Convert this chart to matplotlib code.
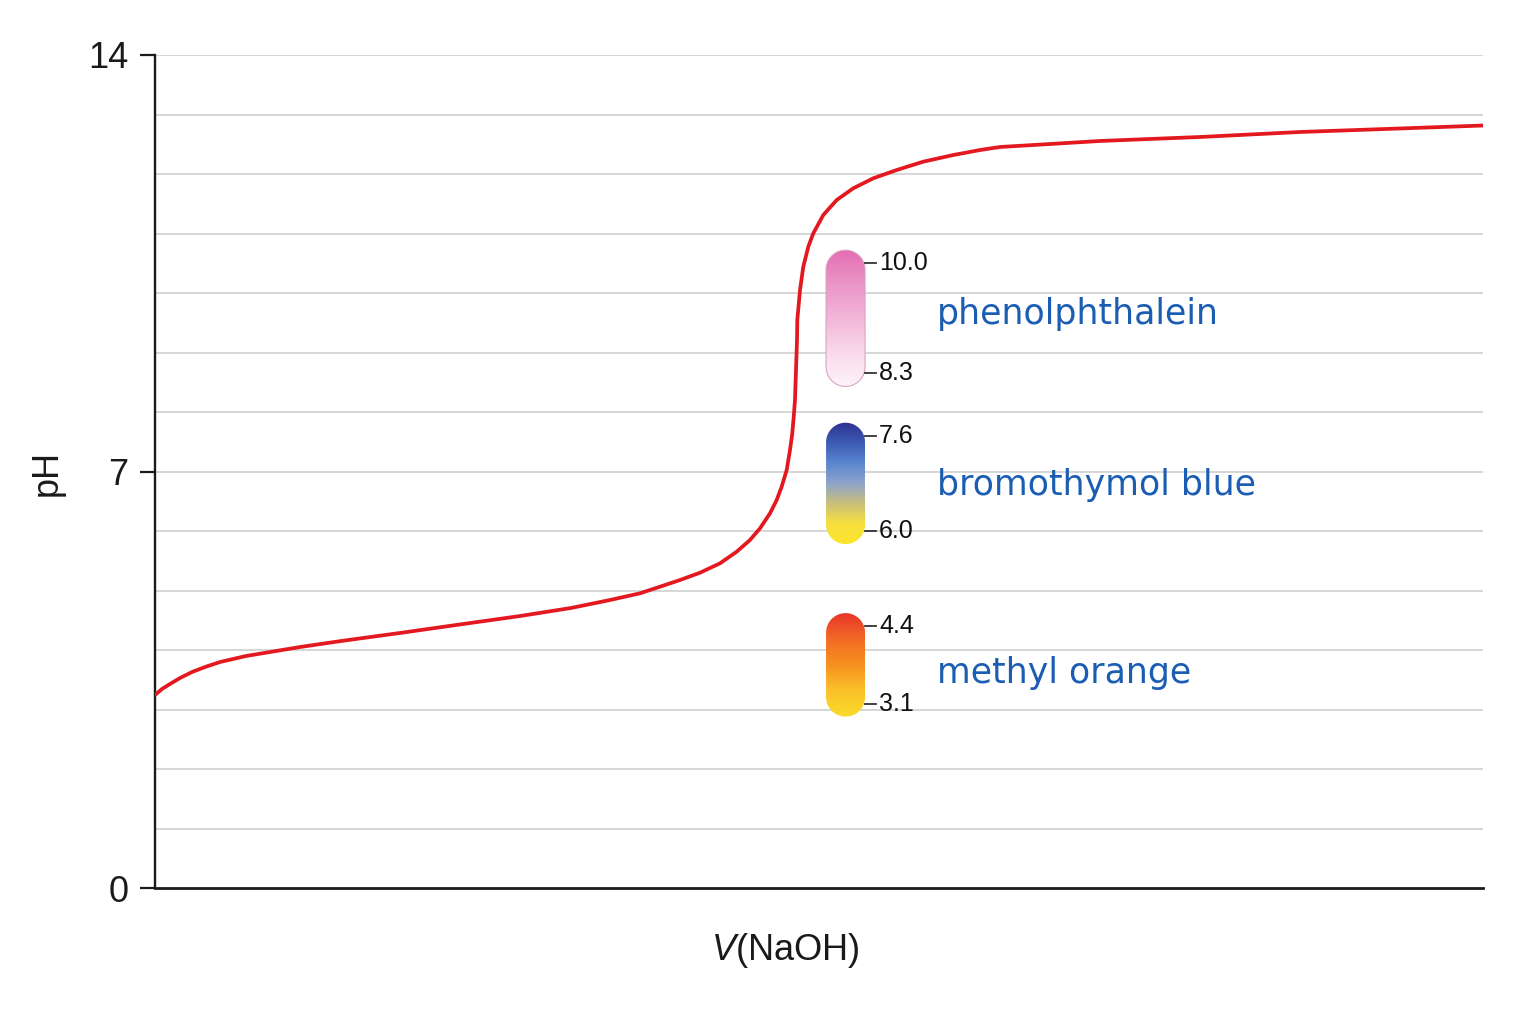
import numpy as np
import matplotlib.pyplot as plt
from matplotlib.path import Path
from matplotlib.patches import PathPatch
from matplotlib.colors import LinearSegmentedColormap

plt.rcParams['font.family'] = ['Liberation Sans', 'DejaVu Sans']
plt.rcParams['mathtext.fontset'] = 'custom'
plt.rcParams['mathtext.it'] = 'Liberation Sans:italic'
plt.rcParams['mathtext.rm'] = 'Liberation Sans'

# titration curve (V in mL, arbitrary scale)
vol = [0.000, 0.264, 0.565, 0.941, 1.393, 1.883, 2.447, 3.426, 4.330, 5.459,
       7.003, 9.224, 11.333, 13.742, 15.663, 17.131, 18.261, 19.014, 19.767,
       20.520, 21.273, 21.901, 22.402, 22.779, 23.155, 23.407, 23.595, 23.784,
       23.908, 23.995, 24.059, 24.096, 24.134, 24.172, 24.183, 24.285, 24.409,
       24.597, 24.785, 25.162, 25.666, 26.291, 27.044, 27.925, 28.927, 30.057,
       31.062, 31.815, 33.697, 35.580, 39.345, 43.110, 46.875, 50.000]
ph = [3.244, 3.345, 3.429, 3.529, 3.630, 3.714, 3.798, 3.899, 3.966, 4.050,
      4.151, 4.286, 4.420, 4.571, 4.706, 4.840, 4.953, 5.064, 5.176,
      5.299, 5.457, 5.652, 5.849, 6.045, 6.297, 6.521, 6.745, 7.025,
      7.361, 7.642, 7.978, 8.202, 8.706, 9.210, 9.546, 10.050, 10.442,
      10.778, 11.003, 11.311, 11.563, 11.760, 11.928, 12.067, 12.207, 12.319,
      12.403, 12.454, 12.504, 12.555, 12.622, 12.706, 12.765, 12.815]

# indicators
ind_names = ['methyl orange', 'bromothymol blue', 'phenolphthalein']
ind_low = [3.1, 6.0, 8.65]
ind_high = [4.4, 7.6, 10.5]
ind_low_lbl = ['3.1', '6.0', '8.3']
ind_high_lbl = ['4.4', '7.6', '10.0']
ind_name_y = [3.62, 6.77, 9.65]
ind_colors = [
    ['#fbdb2a', '#fbc22a', '#f7911f', '#f26a25', '#e8352b'],
    ['#fde52c', '#f6e03e', '#c9bf7a', '#8fa3cc', '#5a86d0', '#3c5bb4', '#2e3290'],
    ['#fdf3f8', '#f9d9ea', '#f2b5d8', '#eb94c6', '#e46cb2'],
]
ind_edges = ['none', 'none', '#dba3c4']

W, H, DPI = 1536, 1024, 100
fig = plt.figure(figsize=(W / DPI, H / DPI), dpi=DPI)
ax = fig.add_axes([155 / W, 1 - 888 / H, (1483 - 155) / W, (888 - 55) / H])

x0, x1 = 0, 50
y0, y1 = 0, 14
ax.set_xlim(x0, x1)
ax.set_ylim(y0, y1)

# horizontal gridlines every pH unit
for g in range(1, 15):
    ax.axhline(g, color='#d6d6d6', lw=1.4, zorder=1)

ax.plot(vol, ph, color='#e3191f', lw=2.7, zorder=4, solid_capstyle='round',
        solid_joinstyle='round')

# pixel -> data helpers for the little capsule bars
px_x = (x1 - x0) / (1483 - 155)
px_y = (y1 - y0) / (888 - 55)
bar_xc = 26.0
bar_hw = 19.5 * px_x
rad_y = 19.5 * px_y
pad = 0.22

for i in range(len(ind_names)):
    lo, hi = ind_low[i], ind_high[i]
    yb, yt = lo - pad, hi + pad
    t = np.linspace(0, np.pi, 30)
    top = np.column_stack([bar_xc - bar_hw * np.cos(t), yt - rad_y + rad_y * np.sin(t)])
    bot = np.column_stack([bar_xc + bar_hw * np.cos(t), yb + rad_y - rad_y * np.sin(t)])
    verts = np.vstack([top, bot, top[:1]])
    path = Path(verts)
    cmap = LinearSegmentedColormap.from_list('ind%d' % i, ind_colors[i])
    grad = np.linspace(0, 1, 256).reshape(-1, 1)
    im = ax.imshow(grad, cmap=cmap, origin='lower', aspect='auto',
                   extent=[bar_xc - bar_hw, bar_xc + bar_hw, yb, yt], zorder=5,
                   interpolation='bicubic')
    patch = PathPatch(path, facecolor='none', edgecolor=ind_edges[i], lw=0.8, zorder=6)
    ax.add_patch(patch)
    im.set_clip_path(patch)

    tx0 = bar_xc + bar_hw
    tx1 = tx0 + 11 * px_x
    for yv, lbl in [(lo, ind_low_lbl[i]), (hi, ind_high_lbl[i])]:
        ax.plot([tx0, tx1], [yv, yv], color='#333333', lw=1.3, zorder=6)
        ax.text(tx1 + 3 * px_x, yv, lbl, fontsize=18, va='center', ha='left',
                color='#111111', zorder=7)
    ax.text(29.44, ind_name_y[i], ind_names[i], fontsize=25, color='#1b5db3',
            family=['DejaVu Sans'], va='center', ha='left', zorder=7)

ax.set_xlim(x0, x1)
ax.set_ylim(y0, y1)

for s in ['top', 'right']:
    ax.spines[s].set_visible(False)
ax.spines['left'].set_linewidth(1.7)
ax.spines['bottom'].set_linewidth(2.0)
ax.spines['left'].set_color('#1a1a1a')
ax.spines['bottom'].set_color('#1a1a1a')
ax.set_xticks([])
ax.set_yticks([0, 7, 14])
ax.set_yticklabels(['0', '7', '14'])
ax.tick_params(axis='y', length=11, width=1.6, pad=8, labelsize=26, colors='#1a1a1a')

fig.text(47 / W, 1 - 473 / H, 'pH', rotation=90, fontsize=26, ha='center', va='center',
         color='#1a1a1a')
fig.text(785 / W, 1 - 951 / H, r'$V$(NaOH)', fontsize=26, ha='center', va='center',
         color='#1a1a1a')

fig.savefig('out.png', dpi=DPI)
